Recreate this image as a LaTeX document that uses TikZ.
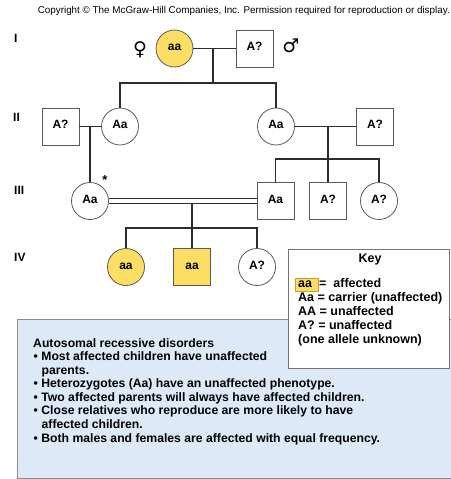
\documentclass[tikz,border=0pt]{standalone}
\usepackage{fontspec}
\setmainfont{Liberation Sans}
\newfontfamily\symfont{DejaVu Sans}
\definecolor{affyel}{RGB}{253,222,100}
\definecolor{affyelb}{RGB}{200,160,40}
\definecolor{boxblue}{RGB}{221,233,246}
\definecolor{lnc}{RGB}{45,45,45}
\definecolor{shp}{RGB}{90,90,90}
\begin{document}
\begin{tikzpicture}[x=1pt,y=-1pt,
  every node/.style={font=\bfseries\fontsize{12}{14}\selectfont, inner sep=0pt},
  pers/.style={draw=shp, line width=0.8pt, minimum size=37pt, inner sep=0pt, text height=4pt, text depth=0pt},
  fem/.style={pers, circle},
  mal/.style={pers, rectangle},
  aff/.style={fill=affyel},
  link/.style={draw=lnc, line width=1.2pt},
  gen/.style={anchor=base west},
  body/.style={anchor=base west, font=\bfseries\fontsize{12.2}{14}\selectfont},
  keytxt/.style={anchor=base west, font=\bfseries\fontsize{12.5}{14}\selectfont},
  gsym/.style={font=\symfont\fontsize{19}{19}\selectfont},
]
\useasboundingbox (0,0) rectangle (450,479);

% copyright
\node[anchor=base east, font=\fontsize{9.85}{10}\selectfont] (copy) at (450,13)
  {Copyright © The McGraw-Hill Companies, Inc. Permission required for reproduction or display.};

% generation labels
\node[gen] (gI)   at (14,42)  {I};
\node[gen] (gII)  at (13,121) {II};
\node[gen] (gIII) at (14,194) {III};
\node[gen] (gIV)  at (14,261) {IV};

% generation I
\node[fem, aff] (f1) at (174.5,48.5) {aa};
\node[mal] (m1) at (254.5,48.5) {A?};
\node[gsym] (fs) at (140,50) {♀};
\node[gsym] (ms) at (291,46) {♂};

% generation II
\node[mal] (m2a) at (60.5,126.5) {A?};
\node[fem] (f2a) at (120,126.5) {Aa};
\node[fem] (f2b) at (276,126.5) {Aa};
\node[mal] (m2b) at (375,126.5) {A?};

% generation III
\node[fem] (f3a) at (90,201) {Aa};
\node[mal] (m3a) at (275.5,201) {Aa};
\node[mal] (m3b) at (328,201) {A?};
\node[fem] (f3b) at (379,201) {A?};
\node[font=\bfseries\fontsize{13}{13}\selectfont] (star) at (105,180) {*};

% generation IV
\node[fem, aff] (f4a) at (126,267) {aa};
\node[mal, aff] (m4a) at (192,267) {aa};
\node[fem] (f4b) at (257,267) {A?};

% connectors I
\coordinate (c1) at (213,48.5);
\coordinate (s1) at (213,83);
\draw[link] (f1) -- (m1);
\draw[link] (c1) -- (s1);
\draw[link] (f2a.north) |- (s1) -| (f2b.north);

% connectors II
\coordinate (c2a) at (90,126.5);
\coordinate (c2b) at (328,126.5);
\coordinate (s2b) at (328,159);
\draw[link] (m2a) -- (f2a);
\draw[link] (c2a) -- (f3a.north);
\draw[link] (f2b) -- (m2b);
\draw[link] (c2b) -- (m3b.north);
\draw[link] (m3a.north) |- (s2b) -| (f3b.north);

% connectors III (consanguineous)
\draw[link] ([yshift=-2.5pt]f3a.east) -- ([yshift=-2.5pt]m3a.west);
\draw[link] ([yshift=2.5pt]f3a.east) -- ([yshift=2.5pt]m3a.west);
\coordinate (c3) at (192,203.5);
\coordinate (s3) at (192,228);
\draw[link] (c3) -- (m4a.north);
\draw[link] (f4a.north) |- (s3) -| (f4b.north);

% blue summary box
\node[draw=black!45, fill=boxblue, line width=0.8pt, anchor=north west,
      minimum width=440pt, minimum height=159pt] (sumbox) at (17,319) {};
\node[body] (t1) at (33,347)   {Autosomal recessive disorders};
\node[body] (t2) at (33.5,360.6) {• Most affected children have unaffected};
\node[body] (t3) at (41.5,374.1) {parents.};
\node[body] (t4) at (33.5,387.7) {• Heterozygotes (Aa) have an unaffected phenotype.};
\node[body] (t5) at (33.5,401.3) {• Two affected parents will always have affected children.};
\node[body] (t6) at (33.5,414.9) {• Close relatives who reproduce are more likely to have};
\node[body] (t7) at (41.5,428.4) {affected children.};
\node[body] (t8) at (33.5,442)   {• Both males and females are affected with equal frequency.};

% key box
\node[draw=black!55, fill=white, line width=1pt, anchor=north west,
      minimum width=161pt, minimum height=119pt] (keybox) at (288,249) {};
\node[anchor=base, font=\bfseries\fontsize{12.5}{14}\selectfont] (keyt) at (370,262) {Key};
\node[draw=affyelb, fill=affyel, line width=0.6pt, anchor=north west,
      minimum width=23pt, minimum height=13pt] (ksw) at (295,278) {};
\node[keytxt] (k1) at (298,287) {aa\hspace{7pt}=\hspace{7pt}affected};
\node[keytxt] (k2) at (298,301) {Aa = carrier (unaffected)};
\node[keytxt] (k3) at (298,315) {AA = unaffected};
\node[keytxt] (k4) at (298,329) {A? = unaffected};
\node[keytxt] (k5) at (298,343) {(one allele unknown)};
\end{tikzpicture}
\end{document}
